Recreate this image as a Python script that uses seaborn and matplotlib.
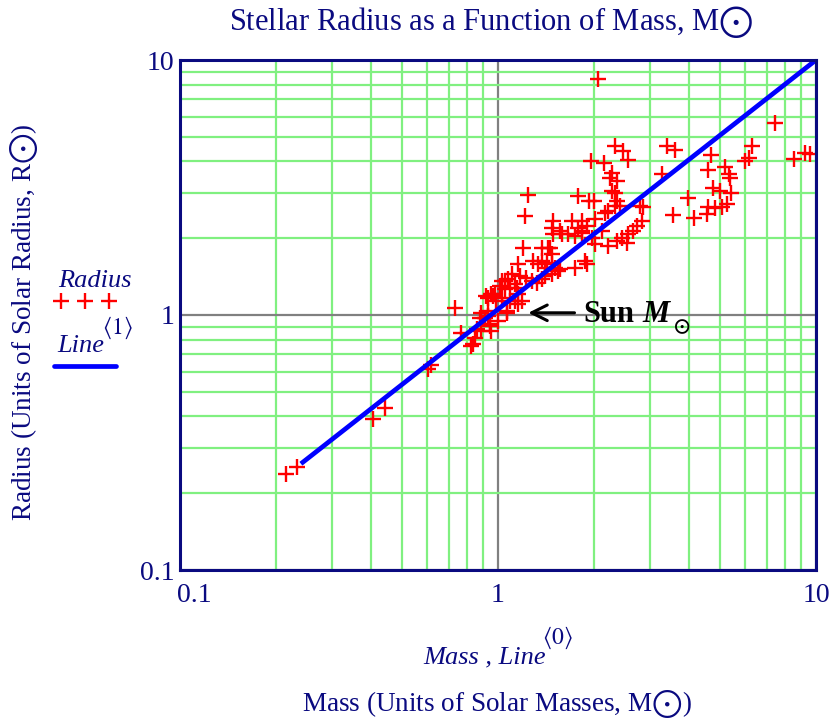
import matplotlib
matplotlib.use("Agg")
import matplotlib.pyplot as plt
import matplotlib.transforms as mtransforms
from matplotlib.lines import Line2D
from matplotlib.ticker import FixedLocator, NullFormatter
import seaborn as sns
import pandas as pd

# ---------------- data ----------------
mass = [0.216, 0.234, 0.404, 0.44, 0.604, 0.617, 0.731, 0.764, 0.835, 0.849,
        0.887, 0.909, 0.876, 0.942, 0.954, 1.0, 1.064, 0.931, 0.966, 0.989,
        0.825, 0.856, 0.887, 0.931, 0.942, 0.931, 0.92, 0.954, 1.026, 1.064,
        1.026, 1.077, 1.089, 1.144, 1.13, 1.158, 1.103, 1.2, 1.291, 1.439,
        1.474, 1.492, 1.585, 1.664, 1.746, 1.833, 1.339, 1.371, 1.404, 1.422,
        1.474, 1.51, 1.547, 1.158, 1.171, 1.229, 1.275, 1.322, 1.371, 1.05,
        1.013, 1.05, 1.13, 1.158, 1.186, 1.089, 0.977, 1.565, 1.746, 1.877,
        1.9, 1.474, 1.404, 2.333, 2.479, 2.558, 1.961, 2.16, 2.279, 2.25,
        2.361, 2.279, 2.333, 1.245, 1.78, 1.932, 2.01, 2.361, 2.333, 2.419,
        2.797, 2.224, 2.17, 1.214, 1.492, 1.704, 1.833, 2.018, 1.474, 1.565,
        1.789, 1.833, 1.9, 2.118, 2.831, 2.731, 2.666, 2.57, 2.449, 2.361,
        2.54, 2.224, 1.371, 1.456, 1.97, 2.018, 7.44, 3.394, 3.606, 6.29,
        6.14, 5.99, 4.68, 8.51, 9.25, 9.6, 3.27, 4.59, 5.18, 5.31,
        5.37, 4.76, 4.995, 5.41, 3.954, 4.59, 4.82, 5.06, 5.245, 4.54,
        3.538, 4.12, 2.867, 2.07]
radius = [0.239, 0.253, 0.392, 0.433, 0.614, 0.637, 1.068, 0.848, 0.768, 0.815,
          0.866, 0.976, 0.976, 0.92, 0.866, 0.947, 1.021, 1.169, 1.187, 1.135,
          0.756, 0.879, 1.021, 0.991, 0.906, 1.037, 1.187, 1.206, 1.169, 1.037,
          1.359, 1.38, 1.28, 1.28, 1.135, 1.101, 1.444, 1.836, 1.628, 1.836,
          1.73, 2.073, 2.073, 2.073, 2.04, 2.102, 1.58, 1.628, 1.532, 1.603,
          1.58, 1.532, 1.488, 1.58, 1.422, 1.4, 1.359, 1.339, 1.38, 1.359,
          1.3, 1.261, 1.319, 1.206, 1.135, 1.135, 1.206, 1.51, 1.532, 1.628,
          1.58, 1.444, 1.422, 4.6, 4.397, 4.044, 4.018, 3.956, 3.614, 3.455,
          3.354, 3.064, 3.017, 2.955, 2.928, 2.8, 2.8, 2.8, 2.676, 2.676,
          2.676, 2.557, 2.518, 2.443, 2.337, 2.337, 2.337, 2.373, 2.2, 2.135,
          2.2, 2.135, 2.234, 2.135, 2.337, 2.234, 2.135, 2.073, 2.01, 1.95,
          1.92, 1.865, 1.836, 1.836, 2.01, 1.894, 5.68, 4.6, 4.426, 4.6,
          4.14, 4.018, 4.243, 4.08, 4.33, 4.27, 3.583, 3.694, 3.805, 3.563,
          3.455, 3.14, 3.064, 3.017, 2.869, 2.652, 2.635, 2.652, 2.717, 2.483,
          2.46, 2.394, 2.652, 8.4]
line_mass = [0.24, 10.0]
line_radius = [0.261, 10.0]
tick_values = [0.1, 1, 10]
tick_labels = ["0.1", "1", "10"]
minor_grid = [2, 3, 4, 5, 6, 7, 8, 9]

# ---------------- style ----------------
sns.set_theme(style="white")
plt.rcParams["font.family"] = ["Liberation Serif", "DejaVu Serif", "DejaVu Sans"]
plt.rcParams["mathtext.fontset"] = "stix"

NAVY = "#0a0a80"
GREEN = "#80F080"
W, H = 836, 719

fig = plt.figure(figsize=(W / 100, H / 100), dpi=100)
fig.patch.set_facecolor("white")
ax = fig.add_axes([180 / W, 1 - 570 / H, (816 - 180) / W, (570 - 60) / H])
ax.set_facecolor("white")

ax.set_xscale("log")
ax.set_yscale("log")
ax.set_xlim(0.1, 10)
ax.set_ylim(0.1, 10)

minors = [k * 0.1 for k in minor_grid] + [float(k) for k in minor_grid]
for axis in (ax.xaxis, ax.yaxis):
    axis.set_major_locator(FixedLocator(tick_values))
    axis.set_minor_locator(FixedLocator(minors))
    axis.set_minor_formatter(NullFormatter())
ax.set_xticklabels(tick_labels)
ax.set_yticklabels(tick_labels)
ax.grid(which="minor", color=GREEN, lw=1.6, zorder=0)
ax.grid(which="major", color="#808080", lw=1.6, zorder=0)
ax.set_axisbelow(True)
ax.tick_params(which="both", length=0, labelsize=20, colors=NAVY)
ax.tick_params(axis="x", pad=9)
ax.tick_params(axis="y", pad=4)
# shift first x tick label right, as in the reference
xl = ax.get_xticklabels()
xl[0].set_transform(xl[0].get_transform() + mtransforms.ScaledTranslation(14 / 100, 0, fig.dpi_scale_trans))

for s in ax.spines.values():
    s.set_color(NAVY)
    s.set_linewidth(2.2)
    s.set_zorder(6)

df = pd.DataFrame({"Mass": mass, "Radius": radius})
sns.scatterplot(data=df, x="Mass", y="Radius", marker="+", color="red",
                s=130, linewidth=1.7, ax=ax, zorder=3, legend=False)
dl = pd.DataFrame({"x": line_mass, "y": line_radius})
sns.lineplot(data=dl, x="x", y="y", color="#0000ff", lw=3.4, ax=ax, zorder=4,
             legend=False, solid_capstyle="butt")
ax.set_xlabel("")
ax.set_ylabel("")

# Sun annotation
ax.annotate("", xy=(1.245, 1.02), xytext=(1.74, 1.02),
            arrowprops=dict(arrowstyle="->", lw=2.2, color="black", mutation_scale=28,
                            shrinkA=0, shrinkB=0))

def fx(px):
    return px / W

def fy(py):
    return 1 - py / H

fig.text(fx(583), fy(322), "Sun", fontsize=22, fontweight="bold", color="black",
         ha="left", va="baseline")
fig.text(fx(642), fy(322), "M", fontsize=22, fontweight="bold", fontstyle="italic",
         color="black", ha="left", va="baseline")
fig.text(fx(682), fy(328), r"$\mathbf{\odot}$", fontsize=15, color="black", ha="center", va="center")

# titles / labels
fig.text(fx(491), fy(22), r"Stellar Radius as a Function of Mass, M$\bigodot$",
         fontsize=22, color=NAVY, ha="center", va="center")
fig.text(fx(497), fy(704), r"Mass (Units of Solar Masses, M$\bigodot$)",
         fontsize=19.5, color=NAVY, ha="center", va="center")
fig.text(fx(24), fy(322), r"Radius (Units of Solar Radius, R$\bigodot$)",
         fontsize=19.5, color=NAVY, ha="center", va="center", rotation=90)
fig.text(fx(485), fy(663), "Mass , Line", fontsize=19, fontstyle="italic",
         color=NAVY, ha="center", va="baseline")
fig.text(fx(557), fy(638), r"$\langle 0\rangle$", fontsize=17, color=NAVY,
         ha="center", va="center")

# custom legend on the left
fig.text(fx(95), fy(281), "Radius", fontsize=19, fontstyle="italic", color=NAVY,
         ha="center", va="center")
fig.add_artist(Line2D([fx(61), fx(85), fx(109)], [fy(301)] * 3, transform=fig.transFigure,
                      ls="none", marker="+", ms=11, mew=1.7, color="red"))
fig.text(fx(81), fy(352), "Line", fontsize=19, fontstyle="italic", color=NAVY,
         ha="center", va="baseline")
fig.text(fx(117), fy(328), r"$\langle 1\rangle$", fontsize=17, color=NAVY,
         ha="center", va="center")
fig.add_artist(Line2D([fx(54), fx(116)], [fy(366)] * 2, transform=fig.transFigure,
                      lw=3.4, color="#0000ff", solid_capstyle="round"))

fig.savefig("out.png", dpi=100, facecolor="white")
